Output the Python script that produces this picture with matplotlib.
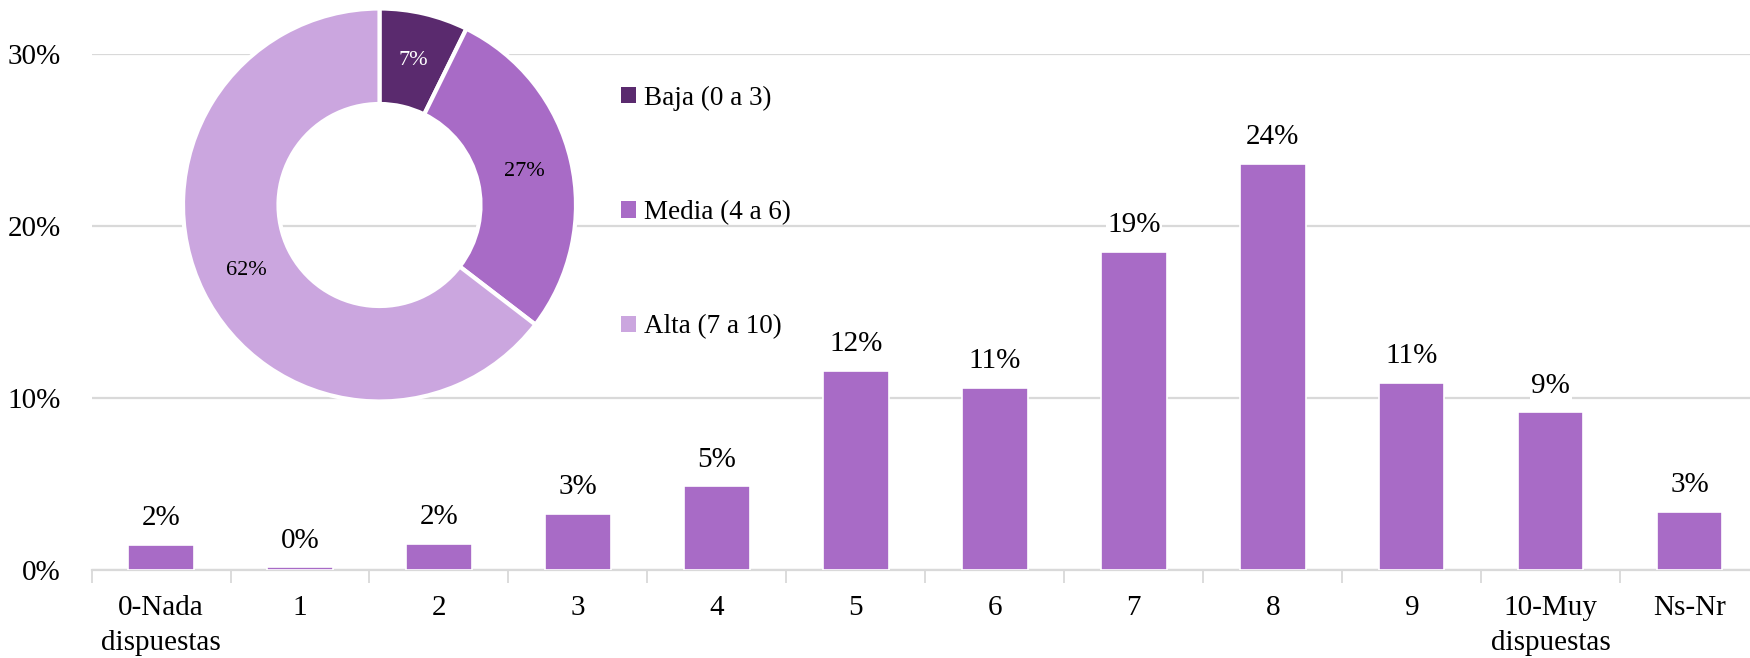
import matplotlib
matplotlib.use("Agg")
import matplotlib.pyplot as plt
from matplotlib.patches import Patch
import numpy as np

# ---- data ----
categories = ["0-Nada\ndispuestas", "1", "2", "3", "4", "5", "6", "7", "8", "9",
              "10-Muy\ndispuestas", "Ns-Nr"]
values = [1.5, 0.2, 1.55, 3.3, 4.9, 11.6, 10.6, 18.5, 23.6, 10.9, 9.2, 3.4]
value_labels = ["2%", "0%", "2%", "3%", "5%", "12%", "11%", "19%", "24%", "11%", "9%", "3%"]

donut_names = ["Baja (0 a 3)", "Media (4 a 6)", "Alta (7 a 10)"]
donut_values = [7, 27, 62]
donut_labels = ["7%", "27%", "62%"]

y_ticks = [0, 10, 20, 30]
y_tick_labels = ["0%", "10%", "20%", "30%"]

# ---- style ----
plt.rcParams['font.family'] = ['Liberation Serif', 'DejaVu Serif']
BAR = "#A86BC6"
DONUT_COLORS = ["#5A2A6E", "#A86BC6", "#CBA6DF"]
GRID = "#D9D9D9"

W, H = 1750, 658
fig = plt.figure(figsize=(W / 100, H / 100), dpi=100)

ax = fig.add_axes([0.0523, 0.133, 0.953, 0.7855])
x = np.arange(len(categories))
ax.bar(x, values, width=0.47, color=BAR, edgecolor="white", linewidth=1.2, zorder=3)

for xi, v, lab in zip(x, values, value_labels):
    ax.annotate(lab, (xi, v), xytext=(0, 14), textcoords="offset points",
                ha="center", va="baseline", fontsize=21, color="black", zorder=4,
                bbox=dict(facecolor="white", edgecolor="none", pad=1.0))

ax.set_xlim(-0.5, len(categories) - 0.5)
ax.set_ylim(0, 30)
ax.set_yticks(y_ticks)
ax.set_yticklabels(y_tick_labels, fontsize=21)
ax.yaxis.grid(True, color=GRID, linewidth=1.6, zorder=0)
ax.set_axisbelow(True)
ax.tick_params(axis="y", length=0, pad=22)

ax.set_xticks(x)
ax.set_xticklabels(categories, fontsize=21, linespacing=1.45)
ax.set_xticks(np.arange(-0.5, len(categories)), minor=True)
ax.tick_params(axis="x", which="major", length=0, pad=18)
ax.tick_params(axis="x", which="minor", length=9, width=1.3, color=GRID)

for s in ["top", "right", "left"]:
    ax.spines[s].set_visible(False)
ax.spines["bottom"].set_color(GRID)
ax.spines["bottom"].set_linewidth(1.6)

# ---- donut ----
cx, cy, r = 379.5, 205.0, 196.5
dax = fig.add_axes([(cx - r) / W, (H - cy - r) / H, 2 * r / W, 2 * r / H])
ring = 0.486
wedges, _ = dax.pie(donut_values, colors=DONUT_COLORS, startangle=90, counterclock=False,
                    radius=1.0, wedgeprops=dict(width=ring, edgecolor="white", linewidth=3))
dax.set_xlim(-1, 1)
dax.set_ylim(-1, 1)
dax.axis("off")
rm = 1 - ring / 2
for w, lab, tc in zip(wedges, donut_labels, ["white", "black", "black"]):
    ang = np.deg2rad((w.theta1 + w.theta2) / 2)
    dax.text(rm * np.cos(ang), rm * np.sin(ang), lab, ha="center", va="center",
             fontsize=16, color=tc)

handles = [Patch(facecolor=c, edgecolor="none") for c in DONUT_COLORS]
fig.legend(handles, donut_names, loc="upper left", bbox_to_anchor=(0.3551, 0.870),
           frameon=False, fontsize=19.5, handlelength=0.55, handleheight=0.55,
           handletextpad=0.28, labelspacing=3.3, borderpad=0, borderaxespad=0)

fig.savefig("out.png", dpi=100)
